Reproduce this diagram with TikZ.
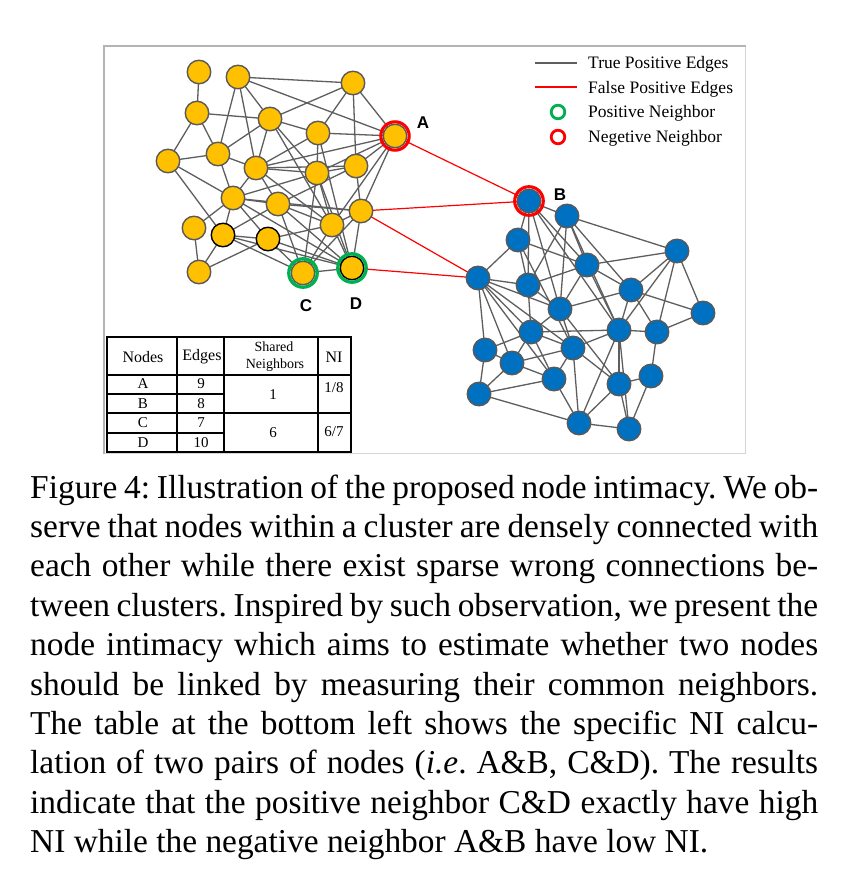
\documentclass[tikz,border=0pt]{standalone}
\usepackage{fontspec}
\setmainfont{Liberation Serif}
\newfontfamily\lblfont{Liberation Sans}
\pgfdeclarelayer{bg}
\pgfsetlayers{bg,main}
\definecolor{nodeyellow}{HTML}{FFC000}
\definecolor{nodeblue}{HTML}{0070C0}
\definecolor{nodegray}{HTML}{595959}
\definecolor{edgegray}{HTML}{5E5E5E}
\definecolor{ringgreen}{HTML}{00B050}
\definecolor{ringred}{HTML}{FF0000}
\definecolor{framedark}{HTML}{B4B4B4}
\definecolor{framelight}{HTML}{D4D4D4}
\begin{document}
\begin{tikzpicture}[x=1bp,y=-1bp,
  ynode/.style={circle, fill=nodeyellow, draw=nodegray, line width=1.4bp, minimum size=23.5bp, inner sep=0pt},
  bnode/.style={circle, fill=nodeblue, draw=nodegray, line width=1.4bp, minimum size=23.5bp, inner sep=0pt},
  blk/.style={draw=black},
  edge/.style={draw=edgegray, line width=1.3bp},
  redge/.style={draw=ringred, line width=1.2bp},
  gring/.style={draw=ringgreen, line width=3.3bp},
  rring/.style={draw=ringred, line width=3.1bp},
  lbl/.style={font=\lblfont\bfseries\fontsize{17bp}{20bp}\selectfont, inner sep=0pt},
  legtext/.style={font=\fontsize{17.5bp}{20bp}\selectfont, anchor=west, inner sep=0pt},
  tabtext/.style={font=\fontsize{15bp}{17bp}\selectfont, inner sep=0pt},
  tabhead/.style={font=\fontsize{16bp}{18bp}\selectfont, inner sep=0pt},
  tabsmall/.style={font=\fontsize{14bp}{16bp}\selectfont, inner sep=0pt},
  captext/.style={font=\fontsize{33.4bp}{39.4bp}\selectfont\frenchspacing, anchor=base west, inner sep=0pt},
  tabline/.style={draw=black, line width=1.2bp},
  tabouter/.style={draw=black, line width=2bp}
]
\useasboundingbox (0,0) rectangle (851,887);

% ---------- left cluster ----------
\node[ynode] (y1) at (199,72) {};
\node[ynode] (y2) at (238,77) {};
\node[ynode] (y3) at (353,83) {};
\node[ynode] (y4) at (197,113) {};
\node[ynode] (y5) at (270,119) {};
\node[ynode] (y6) at (318,133) {};
\node[ynode] (A) at (395,136) {};
\node[ynode] (y8) at (168,161) {};
\node[ynode] (y9) at (218,154) {};
\node[ynode] (y10) at (256,168) {};
\node[ynode] (y11) at (317,173) {};
\node[ynode] (y12) at (356,166) {};
\node[ynode] (y13) at (233,198) {};
\node[ynode] (y14) at (278,204) {};
\node[ynode] (y15) at (361,211) {};
\node[ynode] (y16) at (332,225) {};
\node[ynode] (y17) at (194,228) {};
\node[ynode,blk] (y18) at (223,235) {};
\node[ynode,blk] (y19) at (268,239) {};
\node[ynode] (y20) at (199,272) {};
\node[ynode] (C) at (303,273) {};
\node[ynode,blk] (D) at (352,268) {};

% ---------- right cluster ----------
\node[bnode] (B) at (529,201) {};
\node[bnode] (b1) at (567,216) {};
\node[bnode] (b2) at (518,240) {};
\node[bnode] (b3) at (677,251) {};
\node[bnode] (b4) at (478,278) {};
\node[bnode] (b5) at (587,265) {};
\node[bnode] (b6) at (528,285) {};
\node[bnode] (b7) at (631,290) {};
\node[bnode] (b8) at (560,309) {};
\node[bnode] (b9) at (703,313) {};
\node[bnode] (b10) at (531,332) {};
\node[bnode] (b11) at (619,330) {};
\node[bnode] (b12) at (657,332) {};
\node[bnode] (b13) at (485,350) {};
\node[bnode] (b14) at (573,348) {};
\node[bnode] (b15) at (512,363) {};
\node[bnode] (b16) at (554,379) {};
\node[bnode] (b17) at (619,384) {};
\node[bnode] (b18) at (651,376) {};
\node[bnode] (b19) at (479,394) {};
\node[bnode] (b20) at (579,423) {};
\node[bnode] (b21) at (629,429) {};

% rings
\draw[rring] (A.center) circle (14.2bp);
\draw[rring] (B.center) circle (14.3bp);
\draw[gring] (C.center) circle (14.2bp);
\draw[gring] (D.center) circle (14.2bp);

% labels
\node[lbl] (lA) at (423,123) {A};
\node[lbl] (lB) at (560,195) {B};
\node[lbl] (lC) at (306,306) {C};
\node[lbl] (lD) at (356,304) {D};

\begin{pgfonlayer}{bg}
\fill[white] (0,0) rectangle (851,887);
\foreach \a/\b in {y1/y4, y2/y3, y2/A, y2/y5, y2/y9, y2/y10,
  y3/y5, y3/y6, y3/y12, y3/A, y4/y5, y4/y8, y4/y9,
  y5/y9, y5/y10, y5/y6, y5/y11, y5/y16,
  y6/A, y6/y11, y6/D, y6/y10,
  A/y10, A/y11, A/y12, A/y16, A/y15,
  y8/y9, y8/y13, y8/y18, y9/y10, y9/y13,
  y10/y11, y10/y12, y10/y13, y10/y14, y10/y16,
  y11/y12, y11/y13, y11/y16, y11/C, y11/D,
  y12/y15, y12/y14, y13/y14, y13/y17, y13/y18, y13/y19, y13/D, y13/y15,
  y14/y16, y14/y15, y14/C, y14/D, y14/y18,
  y15/y16, y15/D, y15/C, y16/C, y16/D,
  y17/y20, y18/y20, y18/y19, y18/C, y18/D,
  y19/C, y19/D, y19/y16, y20/y19, C/D}
  \draw[edge] (\a.center) -- (\b.center);
\foreach \a/\b in {B/b1, B/b2, B/b5, B/b6, B/b8, B/b11,
  b1/b3, b1/b5, b1/b8, b1/b6, b1/b11, b1/b7,
  b2/b4, b2/b6, b2/b5, b2/b14,
  b3/b5, b3/b7, b3/b9, b3/b11, b3/b12,
  b4/b6, b4/b8, b4/b10, b4/b13, b4/b15, b4/b16, b4/b14,
  b5/b6, b5/b8, b5/b11, b5/b7, b6/b8, b6/b10,
  b7/b8, b7/b9, b7/b11, b7/b12, b8/b10, b8/b14, b8/b17,
  b9/b12, b10/b11, b10/b13, b10/b15, b10/b16, b10/b14,
  b11/b12, b11/b14, b11/b17, b11/b20, b11/b21, b12/b18,
  b13/b15, b13/b19, b14/b15, b14/b16, b14/b20, b14/b17,
  b15/b19, b15/b16, b16/b19, b16/b20,
  b17/b18, b17/b20, b17/b21, b18/b21, b19/b20, b20/b21}
  \draw[edge] (\a.center) -- (\b.center);
\foreach \a/\b in {A/B, y15/B, y15/b4, D/b4}
  \draw[redge] (\a.center) -- (\b.center);
\end{pgfonlayer}

% ---------- frame ----------
\draw[framelight, line width=1bp] (745,45.5) -- (745,453) -- (103.5,453);
\draw[framedark, line width=2bp] (103.5,454) -- (103.5,45.5) -- (746,45.5);

% ---------- legend ----------
\coordinate (lg1a) at (535,63); \coordinate (lg1b) at (577,63);
\coordinate (lg2a) at (535,87); \coordinate (lg2b) at (577,87);
\draw[edgegray, line width=1.1bp] (lg1a) -- (lg1b);
\draw[ringred, line width=1.1bp] (lg2a) -- (lg2b);
\coordinate (lg3) at (558,112);
\coordinate (lg4) at (558,137);
\draw[ringgreen, line width=2.8bp] (lg3) circle (6.8bp);
\draw[ringred, line width=2.8bp] (lg4) circle (6.8bp);
\node[legtext] (t1) at (588,64) {True Positive Edges};
\node[legtext] (t2) at (588,89) {False Positive Edges};
\node[legtext] (t3) at (588,113) {Positive Neighbor};
\node[legtext] (t4) at (588,138) {Negetive Neighbor};

% ---------- table ----------
\draw[tabline] (177,337) -- (177,452);
\draw[tabline] (224,337) -- (224,452);
\draw[tabline] (318,337) -- (318,452);
\draw[tabline] (107,375) -- (351,375);
\draw[tabline] (107,394) -- (224,394);
\draw[tabline] (107,413) -- (351,413);
\draw[tabline] (107,433) -- (224,433);
\draw[tabouter] (107,337) rectangle (351,452);
\node[tabhead] (hN) at (143,357) {Nodes};
\node[tabhead] (hE) at (202,357) {Edges};
\node[tabsmall] (hS1) at (274,347) {Shared};
\node[tabsmall] (hS2) at (275,365) {Neighbors};
\node[tabhead] (hNI) at (334,357) {NI};
\node[tabtext] (rA) at (143,384) {A};
\node[tabtext] (rB) at (143,404) {B};
\node[tabtext] (rC) at (143,423) {C};
\node[tabtext] (rD) at (143,443) {D};
\node[tabtext] (eA) at (201,384) {9};
\node[tabtext] (eB) at (201,404) {8};
\node[tabtext] (eC) at (201,423) {7};
\node[tabtext] (eD) at (201,443) {10};
\node[tabtext] (s1) at (273,395) {1};
\node[tabtext] (s2) at (273,433) {6};
\node[tabtext] (n1) at (334,388) {1/8};
\node[tabtext] (n2) at (334,432) {6/7};

% ---------- caption ----------
\node[captext] (cap1) at (30,498) {\makebox[788bp][s]{Figure 4: Illustration of the proposed node intimacy. We ob-}};
\node[captext] (cap2) at (30,537.4) {\makebox[788bp][s]{serve that nodes within a cluster are densely connected with}};
\node[captext] (cap3) at (30,576.8) {\makebox[788bp][s]{each other while there exist sparse wrong connections be-}};
\node[captext] (cap4) at (30,616.2) {\makebox[788bp][s]{tween clusters. Inspired by such observation, we present the}};
\node[captext] (cap5) at (30,655.6) {\makebox[788bp][s]{node intimacy which aims to estimate whether two nodes}};
\node[captext] (cap6) at (30,695) {\makebox[788bp][s]{should be linked by measuring their common neighbors.}};
\node[captext] (cap7) at (30,734.4) {\makebox[788bp][s]{The table at the bottom left shows the specific NI calcu-}};
\node[captext] (cap8) at (30,773.8) {\makebox[788bp][s]{lation of two pairs of nodes (\textit{i.e}. A\&B, C\&D). The results}};
\node[captext] (cap9) at (30,813.2) {\makebox[788bp][s]{indicate that the positive neighbor C\&D exactly have high}};
\node[captext] (cap10) at (30,852.6) {NI while the negative neighbor A\&B have low NI.};
\end{tikzpicture}
\end{document}
